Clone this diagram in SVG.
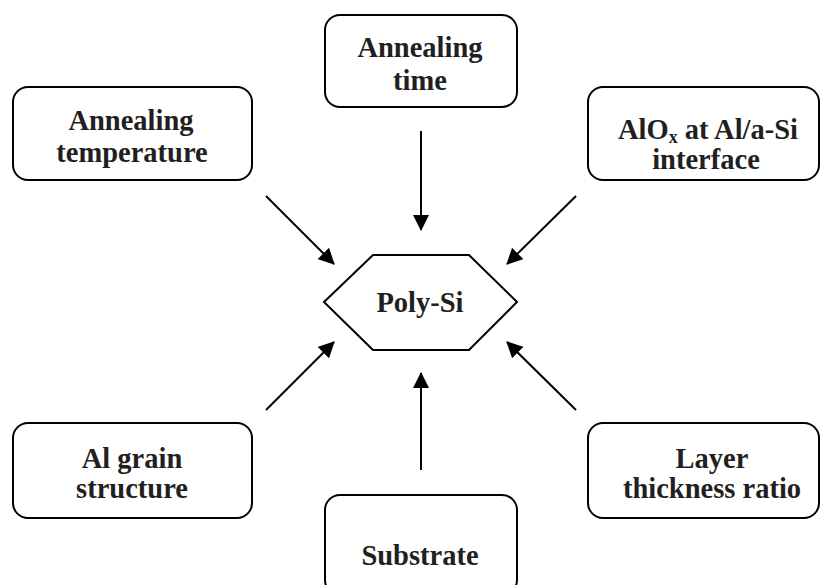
<svg xmlns="http://www.w3.org/2000/svg" width="821" height="585" viewBox="0 0 821 585">
<defs>
<marker id="ah" markerWidth="16" markerHeight="16" refX="15" refY="8" orient="auto" markerUnits="userSpaceOnUse">
<path d="M0,0 L16,8 L0,16 Z" fill="#000"/>
</marker>
<style>
.box{fill:#fff;stroke:#000;stroke-width:2}
.t{font-family:'Liberation Serif','Times New Roman',serif;font-weight:700;font-size:28.5px;fill:#231f20;text-anchor:middle}
.c{stroke:#000;stroke-width:2;fill:none;marker-end:url(#ah)}
</style>
</defs>
<rect width="821" height="585" fill="#fff"/>
<g id="annealing-temperature">
<rect class="box" x="13" y="87" width="239" height="93" rx="15"/>
<text class="t" x="131" y="130">Annealing</text>
<text class="t" x="132" y="162">temperature</text>
</g>
<g id="annealing-time">
<rect class="box" x="325" y="15" width="192" height="92" rx="15"/>
<text class="t" x="420" y="57">Annealing</text>
<text class="t" x="420" y="90">time</text>
</g>
<g id="alox">
<rect class="box" x="588" y="87" width="231" height="93" rx="15"/>
<text class="t" x="708" y="139">AlO<tspan font-size="18" dy="4">x</tspan><tspan dy="-4"> at Al/a-Si</tspan></text>
<text class="t" x="706" y="169">interface</text>
</g>
<g id="poly-si">
<polygon class="box" points="324,302 373,255 469,255 517,302 469,350 373,350"/>
<text class="t" x="420" y="312">Poly-Si</text>
</g>
<g id="al-grain">
<rect class="box" x="13" y="423" width="239" height="95" rx="15"/>
<text class="t" x="132" y="468">Al grain</text>
<text class="t" x="132" y="498">structure</text>
</g>
<g id="substrate">
<rect class="box" x="325" y="495" width="192" height="100" rx="15"/>
<text class="t" x="420" y="565">Substrate</text>
</g>
<g id="layer-thickness">
<rect class="box" x="588" y="423" width="231" height="95" rx="15"/>
<text class="t" x="712" y="468">Layer</text>
<text class="t" x="712" y="498">thickness ratio</text>
</g>
<g id="connectors">
<line class="c" x1="421" y1="131" x2="421" y2="230"/>
<line class="c" x1="266" y1="196" x2="334" y2="264"/>
<line class="c" x1="576" y1="196" x2="507" y2="264"/>
<line class="c" x1="266" y1="410" x2="334" y2="342"/>
<line class="c" x1="576" y1="410" x2="507" y2="342"/>
<line class="c" x1="421" y1="470" x2="421" y2="373"/>
</g>
</svg>
